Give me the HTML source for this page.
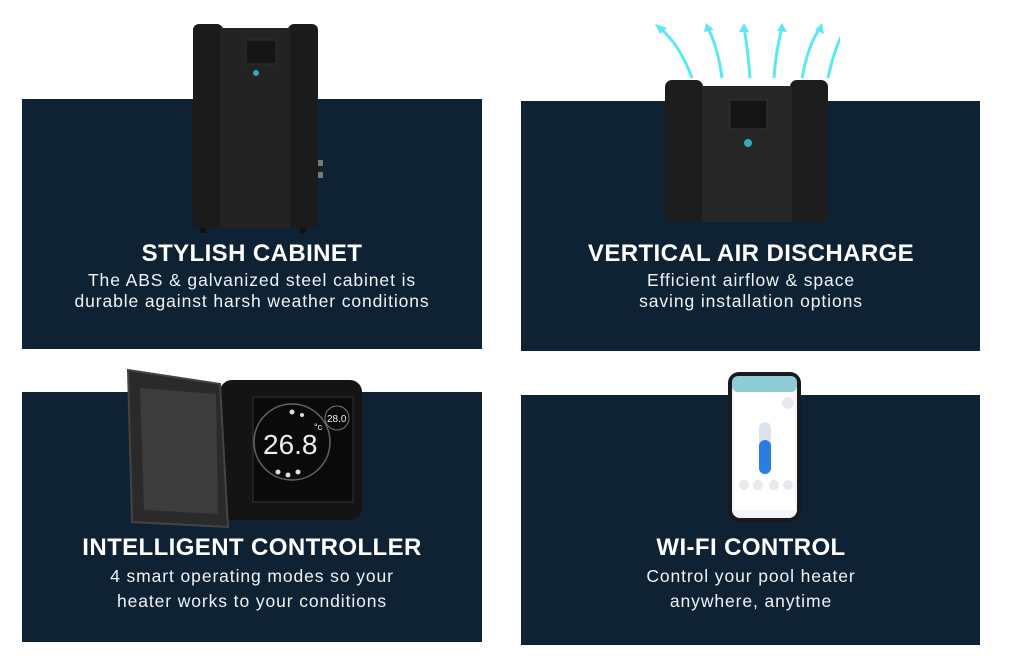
<!DOCTYPE html>
<html><head><meta charset="utf-8"><style>
body{margin:0;width:1024px;height:656px;background:#fff;position:relative;overflow:hidden;font-family:"Liberation Sans",sans-serif}
.p{position:absolute;background:#0f2234}
.t{position:absolute;color:#fff;text-align:center;width:460px}
.h{font-weight:bold;font-size:24px;letter-spacing:0.4px}
.s{font-size:17.5px;line-height:21px;margin-top:2px;letter-spacing:0.9px;color:#f0f2f4}
.a{position:absolute}
</style></head><body>
<div class="p" style="left:22px;top:99px;width:460px;height:250px"></div>
<div class="p" style="left:521px;top:101px;width:459px;height:250px"></div>
<div class="p" style="left:22px;top:392px;width:460px;height:250px"></div>
<div class="p" style="left:521px;top:395px;width:459px;height:250px"></div>

<!-- unit 1 -->
<svg class="a" style="left:190px;top:20px" width="140" height="215">
<rect x="3" y="4" width="30" height="204" rx="6" fill="#1b1b1b"/>
<rect x="98" y="4" width="30" height="204" rx="6" fill="#1b1b1b"/>
<rect x="30" y="8" width="70" height="200" fill="#232323"/>
<rect x="56" y="20" width="30" height="24" fill="#151515" stroke="#2e2e2e"/>
<circle cx="66" cy="53" r="3" fill="#3ab"/>
<rect x="128" y="140" width="5" height="6" fill="#777"/><rect x="128" y="152" width="5" height="6" fill="#777"/>
<rect x="10" y="208" width="6" height="5" fill="#111"/><rect x="110" y="208" width="6" height="5" fill="#111"/>
</svg>

<!-- unit 2 -->
<svg class="a" style="left:650px;top:20px" width="190" height="205">
<g stroke="#5ce8f2" stroke-width="3" fill="none">
<path d="M42 58 Q30 25 10 8"/><path d="M72 58 Q68 28 58 8"/><path d="M100 58 Q98 30 94 8"/><path d="M124 58 Q126 30 132 8"/><path d="M152 58 Q158 25 170 8"/><path d="M178 58 Q184 30 192 15"/>
</g>
<g fill="#5ce8f2"><path d="M5 4 L17 8 L10 14Z"/><path d="M56 3 L64 10 L54 12Z"/><path d="M94 3 L99 12 L89 12Z"/><path d="M132 3 L137 12 L127 11Z"/><path d="M172 3 L174 14 L165 10Z"/></g>
<rect x="15" y="60" width="38" height="142" rx="7" fill="#1d1d1d"/>
<rect x="140" y="60" width="38" height="142" rx="7" fill="#1d1d1d"/>
<rect x="52" y="66" width="90" height="136" fill="#262626"/>
<rect x="80" y="80" width="37" height="29" fill="#151515" stroke="#333"/>
<circle cx="98" cy="123" r="4" fill="#3ab"/>
</svg>

<!-- controller -->
<svg class="a" style="left:120px;top:362px" width="250" height="172">
<rect x="100" y="18" width="142" height="140" rx="12" fill="#141414"/>
<rect x="133" y="35" width="100" height="105" fill="#0a0a0a" stroke="#333"/>
<circle cx="172" cy="80" r="38" fill="none" stroke="#666" stroke-width="1.5"/>
<text x="143" y="92" fill="#eee" font-size="28" font-family="Liberation Sans">26.8</text>
<text x="194" y="68" fill="#eee" font-size="9">°c</text>
<circle cx="217" cy="56" r="12" fill="none" stroke="#777"/><text x="207" y="60" fill="#eee" font-size="10">28.0</text>
<g fill="#ddd"><circle cx="158" cy="110" r="2.5"/><circle cx="168" cy="113" r="2.5"/><circle cx="178" cy="110" r="2.5"/><circle cx="172" cy="50" r="2.5"/><circle cx="182" cy="53" r="2"/></g>
<path d="M8 8 L100 22 L108 165 L12 160 Z" fill="#2a2a2a" stroke="#444" stroke-width="2"/>
<path d="M20 26 L96 32 L98 152 L24 148 Z" fill="#3c3c3c"/>
</svg>

<!-- phone -->
<svg class="a" style="left:726px;top:370px" width="78" height="155">
<rect x="2" y="2" width="73" height="150" rx="11" fill="#1a1a1a"/>
<rect x="6" y="6" width="65" height="142" rx="8" fill="#f3f6f8"/>
<rect x="6" y="6" width="65" height="16" rx="6" fill="#8ecbd6"/>
<rect x="8" y="22" width="61" height="118" fill="#fff"/>
<rect x="33" y="52" width="12" height="52" rx="6" fill="#dde3ea"/>
<rect x="33" y="70" width="12" height="34" rx="6" fill="#2a7de1"/>
<g fill="#e6eaee"><circle cx="18" cy="115" r="5"/><circle cx="32" cy="115" r="5"/><circle cx="48" cy="115" r="5"/><circle cx="62" cy="115" r="5"/><circle cx="62" cy="33" r="6"/></g>
</svg>

<div class="t" style="left:22px;top:240px"><div class="h">STYLISH CABINET</div><div class="s">The ABS &amp; galvanized steel cabinet is<br>durable against harsh weather conditions</div></div>
<div class="t" style="left:521px;top:240px"><div class="h">VERTICAL AIR DISCHARGE</div><div class="s">Efficient airflow &amp; space<br>saving installation options</div></div>
<div class="t" style="left:22px;top:534px"><div class="h">INTELLIGENT CONTROLLER</div><div class="s" style="line-height:25px">4 smart operating modes so your<br>heater works to your conditions</div></div>
<div class="t" style="left:521px;top:534px"><div class="h">WI-FI CONTROL</div><div class="s" style="line-height:25px">Control your pool heater<br>anywhere, anytime</div></div>
</body></html>
